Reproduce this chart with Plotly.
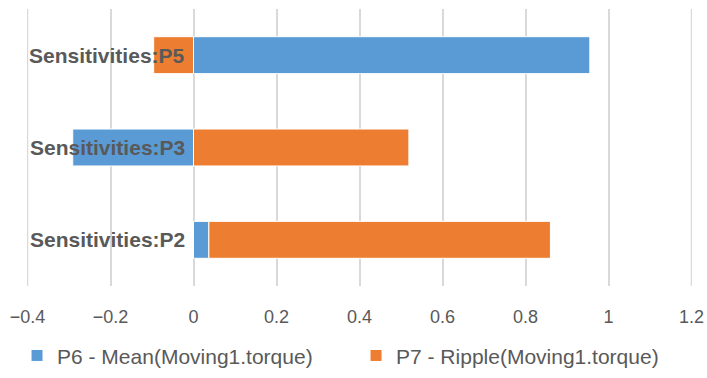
import plotly.graph_objects as go

categories = ["Sensitivities:P2", "Sensitivities:P3", "Sensitivities:P5"]
mean_values = [0.037, -0.291, 0.955]
ripple_values = [0.823, 0.519, -0.096]
series_names = ["P6 - Mean(Moving1.torque)", "P7 - Ripple(Moving1.torque)"]
tick_values = [-0.4, -0.2, 0, 0.2, 0.4, 0.6, 0.8, 1, 1.2]

fig = go.Figure()
fig.add_trace(go.Bar(y=categories, x=mean_values, orientation="h", name=series_names[0],
                     marker=dict(color="#5B9BD5", line=dict(color="white", width=1))))
fig.add_trace(go.Bar(y=categories, x=ripple_values, orientation="h", name=series_names[1],
                     marker=dict(color="#ED7D31", line=dict(color="white", width=1))))

for c in categories:
    fig.add_annotation(x=0, y=c, xref="x", yref="y", text="<b>%s</b>" % c, showarrow=False,
                       xanchor="right", yanchor="middle", xshift=-7,
                       font=dict(family="Liberation Sans, Arial", size=21, color="#595959"))

# edge gridlines (plotly omits gridlines on the plot-area boundary)
for xv in (tick_values[0], tick_values[-1]):
    fig.add_shape(type="line", xref="x", yref="paper", x0=xv, x1=xv, y0=0, y1=1,
                  line=dict(color="#D9D9D9", width=1.5), layer="below")

fig.update_layout(
    width=707, height=378, barmode="relative", bargap=0.6,
    margin=dict(l=27, r=15, t=9, b=92, autoexpand=False),
    paper_bgcolor="white", plot_bgcolor="white",
    font=dict(family="Liberation Sans, Arial", color="#595959", size=18),
    legend=dict(orientation="h", x=-0.015, xanchor="left", y=-0.252, yanchor="middle",
                font=dict(size=21, color="#595959"), traceorder="normal",
                entrywidth=294, entrywidthmode="pixels"),
    showlegend=True,
)
fig.update_xaxes(range=[-0.4012, 1.2012], tickvals=tick_values, showgrid=True, gridcolor="#D9D9D9",
                 gridwidth=1.5, zeroline=True, zerolinecolor="#D9D9D9", zerolinewidth=1.5,
                 showline=False, ticks="", ticklabelstandoff=18, automargin=False,
                 tickfont=dict(size=18, color="#595959"))
fig.update_yaxes(showticklabels=False, showgrid=False, zeroline=False, showline=False,
                 automargin=False, categoryorder="array", categoryarray=categories)

fig.write_html("out.html", config={"displayModeBar": False},
               post_script="document.body.style.margin='0';document.body.style.overflow='hidden';")
